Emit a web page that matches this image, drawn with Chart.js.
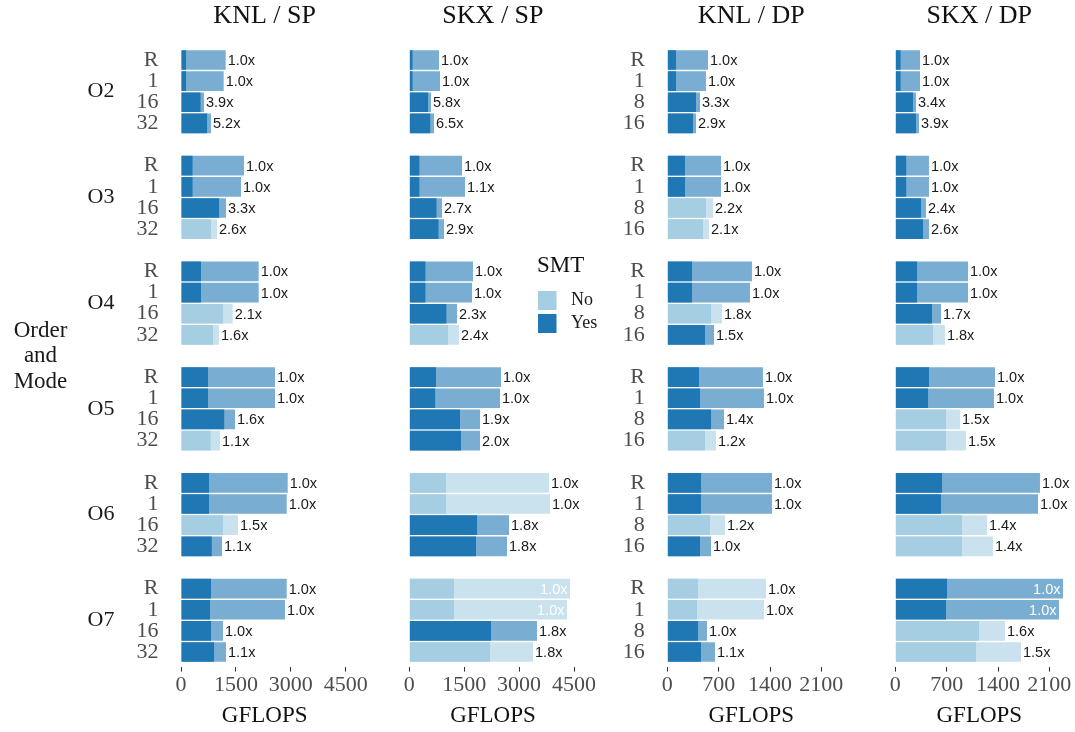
<!DOCTYPE html>
<html>
<head>
<meta charset="utf-8">
<script src="https://cdn.jsdelivr.net/npm/chart.js@4.4.1/dist/chart.umd.min.js"></script>
<style>
  html, body { margin: 0; padding: 0; background: #fff; }
  body { width: 1075px; height: 732px; position: relative; overflow: hidden; }
  canvas { position: absolute; top: 0; }
</style>
</head>
<body>
<canvas id="knlSp" width="395" height="732" style="left:0px"></canvas>
<canvas id="skxSp" width="215" height="732" style="left:395px"></canvas>
<canvas id="knlDp" width="255" height="732" style="left:610px"></canvas>
<canvas id="skxDp" width="210" height="732" style="left:865px"></canvas>
<script>
// Optimisation orders (facet rows) and thread modes within each order
const groups = ['O2', 'O3', 'O4', 'O5', 'O6', 'O7'];
const spModes = ['R', '1', '16', '32'];
const dpModes = ['R', '1', '8', '16'];
const spTicks = [0, 1500, 3000, 4500];
const dpTicks = [0, 700, 1400, 2100];

// GFLOPS, one row per order (O2..O7), one column per mode.
// "inner" is the solid part of each bar, "outer" the faded full length.
const knlSpInner = [[137, 137, 534, 712], [315, 315, 1040, 819], [546, 546, 1147, 874], [738, 738, 1180, 811], [765, 765, 1147, 841], [820, 792, 820, 902]];
const knlSpOuter = [[1221, 1166, 628, 820], [1721, 1639, 1229, 984], [2122, 2122, 1412, 1038], [2568, 2568, 1475, 1065], [2915, 2888, 1557, 1120], [2888, 2841, 1147, 1229]];
const knlSpSmt = [[1, 1, 1, 1], [1, 1, 1, 0], [1, 1, 0, 0], [1, 1, 1, 0], [1, 1, 0, 1], [1, 1, 1, 1]];
const knlSpSpeedup = [[1.0, 1.0, 3.9, 5.2], [1.0, 1.0, 3.3, 2.6], [1.0, 1.0, 2.1, 1.6], [1.0, 1.0, 1.6, 1.1], [1.0, 1.0, 1.5, 1.1], [1.0, 1.0, 1.0, 1.1]];

const skxSpInner = [[88, 88, 512, 572], [275, 275, 742, 797], [440, 440, 1012, 1057], [729, 706, 1385, 1412], [1003, 1003, 1850, 1822], [1221, 1221, 2232, 2205]];
const skxSpOuter = [[811, 839, 593, 675], [1440, 1522, 893, 948], [1740, 1713, 1303, 1358], [2505, 2478, 1931, 1931], [3817, 3844, 2724, 2669], [4390, 4308, 3489, 3380]];
const skxSpSmt = [[1, 1, 1, 1], [1, 1, 1, 1], [1, 1, 1, 0], [1, 1, 1, 1], [0, 0, 1, 1], [0, 0, 1, 0]];
const skxSpSpeedup = [[1.0, 1.0, 5.8, 6.5], [1.0, 1.1, 2.7, 2.9], [1.0, 1.0, 2.3, 2.4], [1.0, 1.0, 1.9, 2.0], [1.0, 1.0, 1.8, 1.8], [1.0, 1.0, 1.8, 1.8]];

const knlDpInner = [[119, 119, 391, 350], [241, 241, 527, 487], [337, 337, 596, 514], [432, 446, 596, 514], [459, 459, 582, 446], [418, 405, 418, 459]];
const knlDpOuter = [[555, 527, 446, 391], [732, 732, 623, 568], [1154, 1127, 746, 637], [1304, 1318, 773, 664], [1427, 1427, 786, 596], [1345, 1318, 541, 650]];
const knlDpSmt = [[1, 1, 1, 1], [1, 1, 0, 0], [1, 1, 0, 1], [1, 1, 1, 0], [1, 1, 0, 1], [0, 0, 1, 1]];
const knlDpSpeedup = [[1.0, 1.0, 3.3, 2.9], [1.0, 1.0, 2.2, 2.1], [1.0, 1.0, 1.8, 1.5], [1.0, 1.0, 1.4, 1.2], [1.0, 1.0, 1.2, 1.0], [1.0, 1.0, 1.0, 1.1]];

const skxDpInner = [[72, 72, 241, 282], [148, 148, 350, 378], [296, 296, 500, 514], [459, 446, 691, 691], [637, 623, 909, 909], [705, 691, 1141, 1100]];
const skxDpOuter = [[337, 337, 282, 323], [459, 459, 418, 459], [991, 991, 623, 677], [1359, 1345, 882, 964], [1972, 1945, 1250, 1332], [2286, 2231, 1495, 1713]];
const skxDpSmt = [[1, 1, 1, 1], [1, 1, 1, 1], [1, 1, 1, 0], [1, 1, 0, 0], [1, 1, 0, 0], [1, 1, 0, 0]];
const skxDpSpeedup = [[1.0, 1.0, 3.4, 3.9], [1.0, 1.0, 2.4, 2.6], [1.0, 1.0, 1.7, 1.8], [1.0, 1.0, 1.5, 1.5], [1.0, 1.0, 1.4, 1.4], [1.0, 1.0, 1.6, 1.5]];

const SERIF = "'Liberation Serif', 'Times New Roman', serif";
const SANS = "'Liberation Sans', Arial, sans-serif";
const COLORS = { yes: '#1f78b4', yesFade: '#79aed2', no: '#a6cee3', noFade: '#cae2ee' };
const INK = '#111111';
const GREY = '#4d4d4d';

// Speedup text at the end of each faded bar (inside, in white, when the bar nearly fills the panel)
function speedupPlugin(speed) {
  return {
    id: 'speedupLabels',
    afterDatasetsDraw(chart) {
      const { ctx } = chart;
      const x = chart.scales.x;
      const meta = chart.getDatasetMeta(1);
      const values = chart.data.datasets[1].data;
      ctx.save();
      ctx.font = '14.5px ' + SANS;
      ctx.textBaseline = 'middle';
      meta.data.forEach((bar, i) => {
        if (speed[i] == null || values[i] == null) return;
        const txt = speed[i].toFixed(1) + 'x';
        if (values[i] > 0.9 * x.max) {
          ctx.fillStyle = '#ffffff';
          ctx.textAlign = 'right';
          ctx.fillText(txt, bar.x - 2.5, bar.y + 1);
        } else {
          ctx.fillStyle = '#1a1a1a';
          ctx.textAlign = 'left';
          ctx.fillText(txt, bar.x + 2, bar.y + 1);
        }
      });
      ctx.restore();
    }
  };
}

// Order labels (O2..O7) and the "Order and Mode" heading on the left
const orderLabels = {
  id: 'orderLabels',
  afterDraw(chart) {
    const { ctx, chartArea } = chart;
    const y = chart.scales.y;
    ctx.save();
    ctx.fillStyle = '#1a1a1a';
    ctx.textAlign = 'center';
    ctx.textBaseline = 'middle';
    ctx.font = '22px ' + SERIF;
    groups.forEach((g, gi) => {
      ctx.fillText(g, 101, y.getPixelForValue(gi * 5 + 1.5));
    });
    ctx.font = '23px ' + SERIF;
    const mid = (chartArea.top + chartArea.bottom) / 2;
    ['Order', 'and', 'Mode'].forEach((w, i) => ctx.fillText(w, 40.5, mid + (i - 1) * 25.5));
    ctx.restore();
  }
};

// SMT legend in the gutter between the SP and DP panels
const smtLegend = {
  id: 'smtLegend',
  afterDraw(chart) {
    const { ctx } = chart;
    const ox = 537 - 395;
    ctx.save();
    ctx.fillStyle = INK;
    ctx.textAlign = 'left';
    ctx.textBaseline = 'middle';
    ctx.font = '23px ' + SERIF;
    ctx.fillText('SMT', ox, 265.5);
    [['No', COLORS.no, 291], ['Yes', COLORS.yes, 314]].forEach(([t, c, top]) => {
      ctx.fillStyle = c;
      ctx.fillRect(ox + 1, top, 18.5, 19);
      ctx.fillStyle = '#1a1a1a';
      ctx.font = '18px ' + SERIF;
      ctx.fillText(t, ox + 34, top + 9.5);
    });
    ctx.restore();
  }
};

function buildPanel(spec) {
  const labels = [], inner = [], outer = [], smt = [], speed = [];
  groups.forEach((g, gi) => {
    if (gi > 0) {
      labels.push(''); inner.push(null); outer.push(null); smt.push(null); speed.push(null);
    }
    spec.modes.forEach((m, k) => {
      labels.push(m);
      inner.push(spec.inner[gi][k]);
      outer.push(spec.outer[gi][k]);
      smt.push(spec.smt[gi][k]);
      speed.push(spec.speedup[gi][k]);
    });
  });

  const barCommon = { grouped: false, barPercentage: 0.93, categoryPercentage: 1, borderWidth: 0 };

  new Chart(document.getElementById(spec.id), {
    type: 'bar',
    data: {
      labels,
      datasets: [
        Object.assign({ label: 'solid', data: inner, backgroundColor: smt.map(s => s ? COLORS.yes : COLORS.no) }, barCommon),
        Object.assign({ label: 'faded', data: outer, backgroundColor: smt.map(s => s ? COLORS.yesFade : COLORS.noFade) }, barCommon)
      ]
    },
    options: {
      indexAxis: 'y',
      responsive: false,
      animation: false,
      events: [],
      layout: { padding: { left: 0, right: spec.padRight, top: 0, bottom: 0 } },
      plugins: {
        legend: { display: false },
        tooltip: { enabled: false },
        title: {
          display: true,
          text: spec.title,
          fullSize: false,
          color: INK,
          font: { family: SERIF, size: 26, weight: 'normal' },
          padding: { top: 0.4, bottom: 17.8 }
        }
      },
      scales: {
        x: {
          type: 'linear',
          min: 0,
          max: spec.max,
          afterBuildTicks: s => { s.ticks = spec.ticks.map(v => ({ value: v })); },
          afterFit: s => { s.height = 69.4; },
          border: { display: false },
          grid: {
            display: true, drawOnChartArea: false, drawTicks: true,
            tickLength: 9, tickColor: '#333333', tickWidth: 1, tickBorderDash: [0, 4, 5, 60]
          },
          ticks: {
            autoSkip: false, maxRotation: 0, padding: 0, color: GREY,
            font: { family: SERIF, size: 22 },
            callback: v => String(v)
          },
          title: {
            display: true, text: 'GFLOPS', color: INK,
            font: { family: SERIF, size: 23 },
            padding: { top: 0, bottom: 2 }
          }
        },
        y: {
          type: 'category',
          afterFit: s => { s.width = spec.axisWidth; },
          border: { display: false },
          grid: { display: false, drawTicks: false },
          ticks: {
            display: spec.showModes, autoSkip: false, padding: 22.5, color: GREY,
            font: { family: SERIF, size: 22 }
          }
        }
      }
    },
    plugins: [speedupPlugin(speed)].concat(spec.extra || [])
  });
}

buildPanel({ id: 'knlSp', title: 'KNL / SP', modes: spModes, inner: knlSpInner, outer: knlSpOuter, smt: knlSpSmt, speedup: knlSpSpeedup,
  max: 4570, ticks: spTicks, axisWidth: 181, padRight: 395 - 348.3, showModes: true, extra: [orderLabels] });
buildPanel({ id: 'skxSp', title: 'SKX / SP', modes: spModes, inner: skxSpInner, outer: skxSpOuter, smt: skxSpSmt, speedup: skxSpSpeedup,
  max: 4570, ticks: spTicks, axisWidth: 409.3 - 395, padRight: 610 - 576.6, showModes: false, extra: [smtLegend] });
buildPanel({ id: 'knlDp', title: 'KNL / DP', modes: dpModes, inner: knlDpInner, outer: knlDpOuter, smt: knlDpSmt, speedup: knlDpSpeedup,
  max: 2290, ticks: dpTicks, axisWidth: 667.3 - 610, padRight: 865 - 835.3, showModes: true });
buildPanel({ id: 'skxDp', title: 'SKX / DP', modes: dpModes, inner: skxDpInner, outer: skxDpOuter, smt: skxDpSmt, speedup: skxDpSpeedup,
  max: 2290, ticks: dpTicks, axisWidth: 895.3 - 865, padRight: 1075 - 1063.3, showModes: false });
</script>
</body>
</html>
